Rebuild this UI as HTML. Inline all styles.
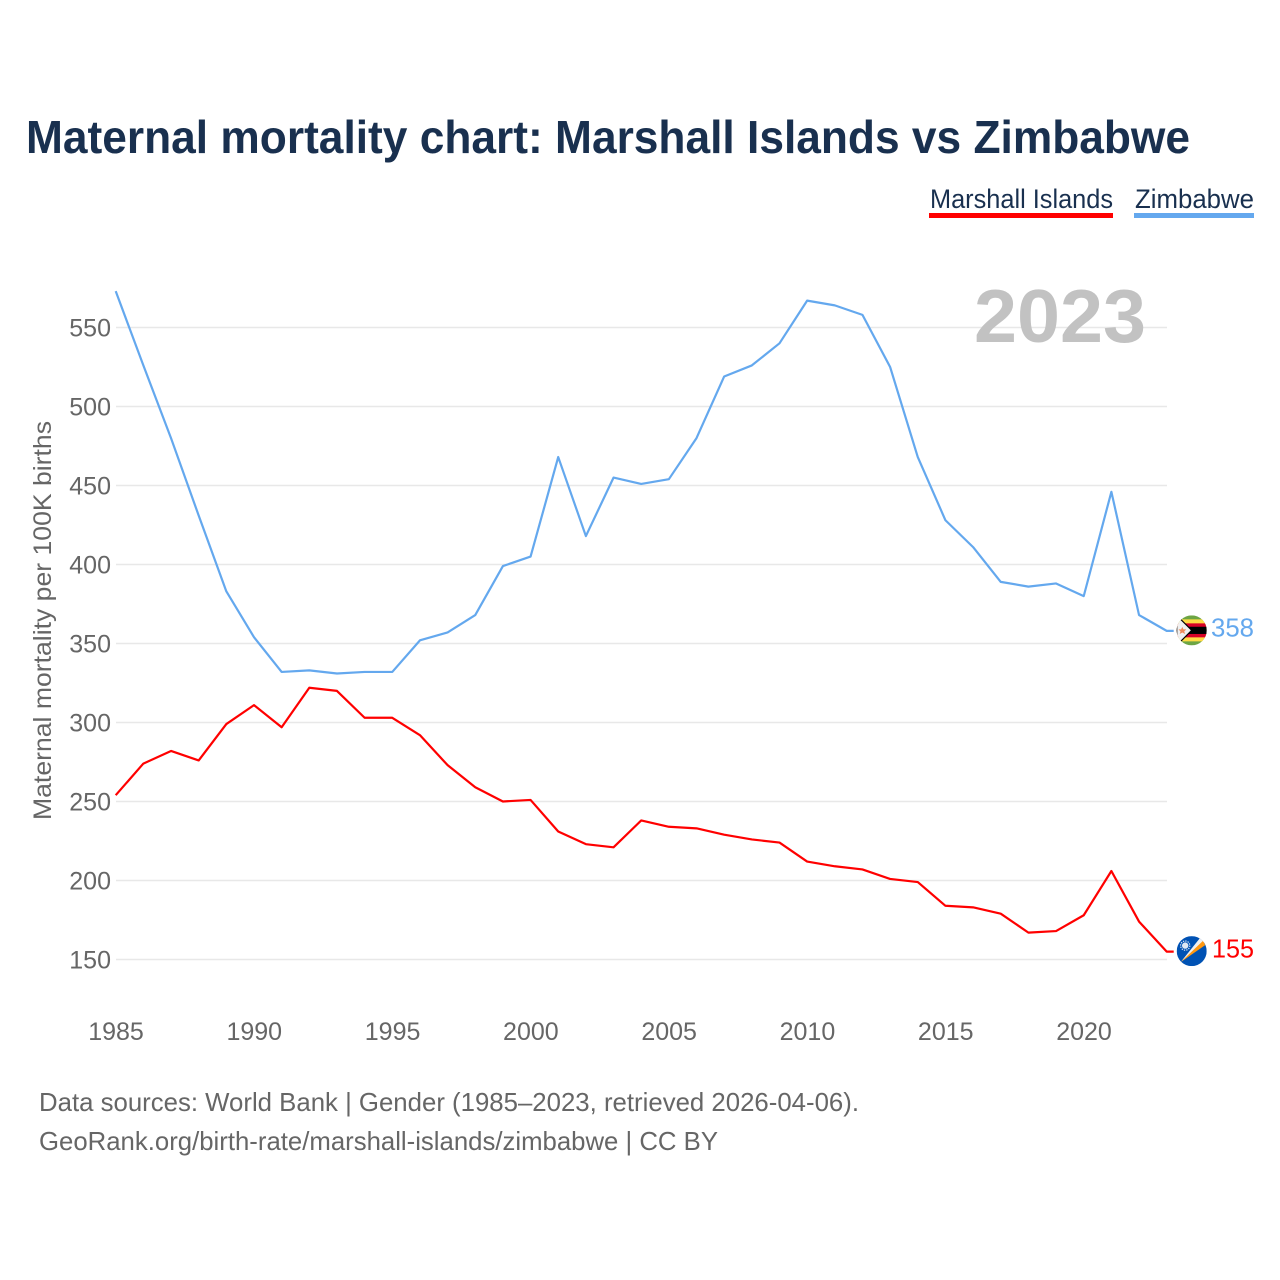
<!DOCTYPE html>
<html lang="en">
<head>
<meta charset="utf-8">
<title>Maternal mortality chart: Marshall Islands vs Zimbabwe</title>
<style>
html,body{margin:0;padding:0;background:#fff;}
svg{display:block;font-family:"Liberation Sans",sans-serif;}
</style>
</head>
<body>
<svg id="chart" width="1280" height="1280" viewBox="0 0 1280 1280" xmlns="http://www.w3.org/2000/svg">
  <rect width="1280" height="1280" fill="#fff"/>
  <text x="26" y="153" font-size="46" font-weight="700" fill="#19304f" textLength="1164" lengthAdjust="spacingAndGlyphs">Maternal mortality chart: Marshall Islands vs Zimbabwe</text>

  <text x="930" y="208" font-size="27" fill="#19304f" textLength="183" lengthAdjust="spacingAndGlyphs">Marshall Islands</text>
  <rect x="929" y="213" width="184" height="5" fill="#ff0000"/>
  <text x="1135" y="208" font-size="27" fill="#19304f" textLength="119" lengthAdjust="spacingAndGlyphs">Zimbabwe</text>
  <rect x="1134" y="213" width="120" height="5" fill="#64a8ee"/>

  <g id="grid"></g>
  <g id="yticks"></g>
  <g id="xticks"></g>

  <text transform="translate(51,820) rotate(-90)" font-size="25" fill="#666" textLength="399" lengthAdjust="spacingAndGlyphs">Maternal mortality per 100K births</text>

  <text x="974" y="342" font-size="75" font-weight="700" fill="#c2c2c2" textLength="172" lengthAdjust="spacingAndGlyphs">2023</text>

  <g id="lines"></g>

  <g id="flag-zimbabwe">
    <clipPath id="clip-zw"><circle r="15"/></clipPath>
    <g clip-path="url(#clip-zw)">
      <rect x="-15" y="-15" width="30" height="30" fill="#6da544"/>
      <rect x="-15" y="-11" width="30" height="22" fill="#ffda44"/>
      <rect x="-15" y="-7" width="30" height="14" fill="#d80027"/>
      <rect x="-15" y="-3.6" width="30" height="7.2" fill="#000"/>
      <path d="M-15,-15 L0,0 L-15,15 Z" fill="#f0f0f0" stroke="#000" stroke-width="1.2"/>
      <path d="M-9.4,-3.5 L-8.2,-1 L-5.4,-1 L-7.5,1 L-6.6,3.6 L-9.4,2.2 L-12,3.6 L-11.2,1 L-13.2,-1 L-10.6,-1 Z" fill="#ef8a5a"/>
    </g>
  </g>
  <g id="flag-marshall">
    <clipPath id="clip-mh"><circle r="15"/></clipPath>
    <g clip-path="url(#clip-mh)">
      <rect x="-15" y="-15" width="30" height="30" fill="#0052b4"/>
      <path d="M-11,11 L9,-14 L13,-9 Z" fill="#f0f0f0"/>
      <path d="M-11,11 L11.5,-10.5 L13.5,-6 Z" fill="#ff9811"/>
      <circle cx="-6.5" cy="-5.5" r="3.2" fill="#dfe8f3"/>
      <circle cx="-6.5" cy="-5.5" r="4.6" fill="none" stroke="#dfe8f3" stroke-width="1.2" stroke-dasharray="1.3 1.1"/>
    </g>
  </g>

  <text id="value-zimbabwe" x="1211" font-size="26" fill="#64a8ee" textLength="43" lengthAdjust="spacingAndGlyphs">358</text>
  <text id="value-marshall" x="1212" font-size="26" fill="#ff0000" textLength="42" lengthAdjust="spacingAndGlyphs">155</text>

  <text x="39" y="1111" font-size="26" fill="#666" textLength="820" lengthAdjust="spacingAndGlyphs">Data sources: World Bank | Gender (1985–2023, retrieved 2026-04-06).</text>
  <text x="39" y="1150" font-size="26" fill="#666" textLength="679" lengthAdjust="spacingAndGlyphs">GeoRank.org/birth-rate/marshall-islands/zimbabwe | CC BY</text>
</svg>
<script>
const years = [1985,1986,1987,1988,1989,1990,1991,1992,1993,1994,1995,1996,1997,1998,1999,2000,2001,2002,2003,2004,2005,2006,2007,2008,2009,2010,2011,2012,2013,2014,2015,2016,2017,2018,2019,2020,2021,2022,2023];
const marshallIslands = [254,274,282,276,299,311,297,322,320,303,303,292,273,259,250,251,231,223,221,238,234,233,229,226,224,212,209,207,201,199,184,183,179,167,168,178,206,174,155];
const zimbabwe = [573,526,480,431,383,354,332,333,331,332,332,352,357,368,399,405,468,418,455,451,454,480,519,526,540,567,564,558,525,468,428,411,389,386,388,380,446,368,358];
const yTickValues = [150,200,250,300,350,400,450,500,550];
const xTickValues = [1985,1990,1995,2000,2005,2010,2015,2020];

const NS = 'http://www.w3.org/2000/svg';
function xScale(year) { return 115.7 + (year - 1985) * (1166.7 - 115.7) / (2023 - 1985); }
function yScale(value) { return 959.5 - (value - 150) * 632 / 400; }

const grid = document.getElementById('grid');
const yticks = document.getElementById('yticks');
yTickValues.forEach(function (v) {
  const line = document.createElementNS(NS, 'line');
  
  
  line.setAttribute('x1', 116);
  line.setAttribute('x2', 1167);
  line.setAttribute('y1', yScale(v));
  line.setAttribute('y2', yScale(v));
  line.setAttribute('stroke', '#e8e8e8');
  line.setAttribute('stroke-width', '1.5');
  grid.appendChild(line);
  const t = document.createElementNS(NS, 'text');
  
  
  t.setAttribute('x', 111);
  t.setAttribute('y', yScale(v) + 9);
  t.setAttribute('text-anchor', 'end');
  t.setAttribute('font-size', '25');
  t.setAttribute('fill', '#666');
  t.textContent = v;
  yticks.appendChild(t);
});

const xticks = document.getElementById('xticks');
xTickValues.forEach(function (yr) {
  const t = document.createElementNS(NS, 'text');
  
  
  t.setAttribute('x', xScale(yr) + 0.3);
  t.setAttribute('y', 1040);
  t.setAttribute('text-anchor', 'middle');
  t.setAttribute('font-size', '25');
  t.setAttribute('fill', '#666');
  t.textContent = yr;
  xticks.appendChild(t);
});

const lines = document.getElementById('lines');
function drawSeries(values, color, name) {
  const last = values[values.length - 1];
  const pts = values.map(function (v, i) { return xScale(years[i]) + ',' + yScale(v); });
  pts.push((xScale(years[years.length - 1]) + 7) + ',' + yScale(last));
  const p = document.createElementNS(NS, 'polyline');
  
  
  p.setAttribute('points', pts.join(' '));
  p.setAttribute('fill', 'none');
  p.setAttribute('stroke', color);
  p.setAttribute('stroke-width', '2.2');
  p.setAttribute('stroke-linejoin', 'round');
  lines.appendChild(p);
}
drawSeries(zimbabwe, '#64a8ee', 'line-zimbabwe');
drawSeries(marshallIslands, '#ff0000', 'line-marshall-islands');

function placeEnd(values, flagId, labelId) {
  const last = values[values.length - 1];
  const y = yScale(last);
  document.getElementById(flagId).setAttribute('transform', 'translate(1191.7,' + (y - 0.5) + ')');
  const label = document.getElementById(labelId);
  label.setAttribute('y', y + 5.7);
  label.textContent = last;
}
placeEnd(zimbabwe, 'flag-zimbabwe', 'value-zimbabwe');
placeEnd(marshallIslands, 'flag-marshall', 'value-marshall');
</script>
</body>
</html>
